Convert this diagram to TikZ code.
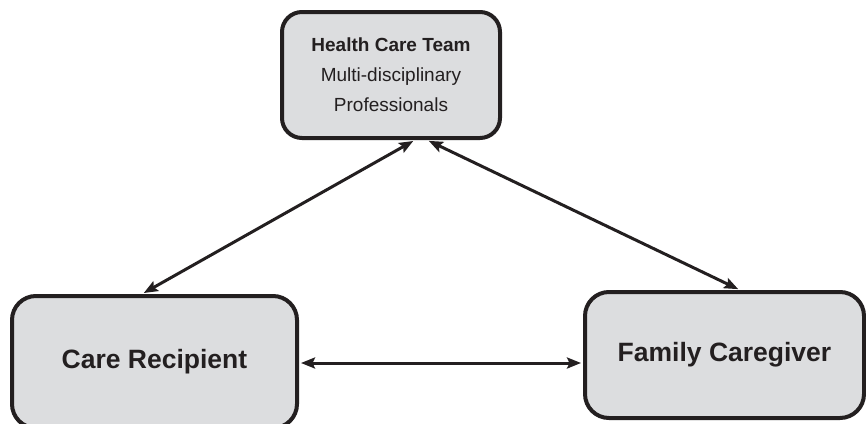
\documentclass[tikz,border=0pt]{standalone}
\usepackage{fontspec}
\setmainfont{Liberation Sans}
\usetikzlibrary{arrows.meta}
\definecolor{caja}{HTML}{DCDDDF}
\definecolor{tinta}{HTML}{231F20}
\tikzset{
	bloque/.style={draw=tinta, fill=caja, line width=4pt, rounded corners=20pt, align=center, text=tinta, inner sep=0pt},
	flecha/.style={tinta, line width=3pt, {Stealth[length=14pt,width=11pt,inset=2.5pt]}-{Stealth[length=14pt,width=11pt,inset=2.5pt]}, shorten <=2pt, shorten >=2pt}
}
\begin{document}
\begin{tikzpicture}[x=1pt, y=-1pt]
	\useasboundingbox (0,0) rectangle (866,423);
		% Cajas
			\node[bloque, minimum width=218pt, minimum height=126pt, font=\fontsize{19}{30}\selectfont] (equipo) at (391,75)
				{\textbf{Health Care Team}\\Multi-disciplinary\\Professionals};
			\node[bloque, minimum width=285pt, minimum height=132pt, rounded corners=24pt, font=\fontsize{26.5}{30}\selectfont\bfseries] (receptor) at (154.5,362) {Care Recipient};
			\node[bloque, minimum width=279pt, minimum height=126pt, rounded corners=24pt, font=\fontsize{26.5}{30}\selectfont\bfseries] (cuidador) at (724.5,355) {Family Caregiver};

		% Flechas
			\draw[flecha] ([xshift=24pt]equipo.south) -- ([xshift=-12.5pt]receptor.north);
			\draw[flecha] ([xshift=36pt]equipo.south) -- ([xshift=15.5pt]cuidador.north);
			\draw[flecha] ([yshift=-1pt]receptor.east) -- ([yshift=-1pt]receptor.east -| cuidador.west);
\end{tikzpicture}
\end{document}
